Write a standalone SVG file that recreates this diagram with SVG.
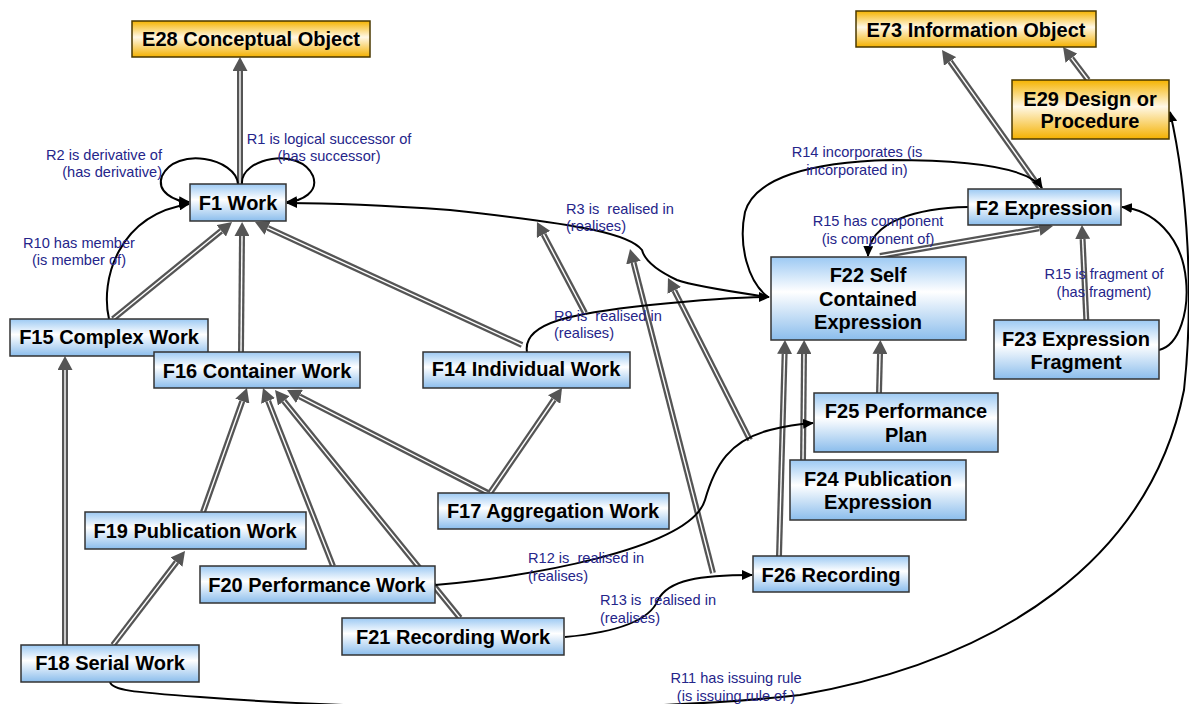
<svg xmlns="http://www.w3.org/2000/svg" width="1189" height="704" viewBox="0 0 1189 704">
<defs>
<linearGradient id="gb" x1="0" y1="0" x2="0" y2="1">
<stop offset="0" stop-color="#9cc9f3"/>
<stop offset="0.42" stop-color="#ffffff"/>
<stop offset="1" stop-color="#8bbdec"/>
</linearGradient>
<linearGradient id="gy" x1="0" y1="0" x2="0" y2="1">
<stop offset="0" stop-color="#f5b300"/>
<stop offset="0.45" stop-color="#fff8e6"/>
<stop offset="1" stop-color="#f4b100"/>
</linearGradient>
<marker id="ga" markerUnits="userSpaceOnUse" viewBox="0 0 14 15" refX="0" refY="7.5" markerWidth="14" markerHeight="15" orient="auto">
<path d="M0,0 L14,7.5 L0,15 z" fill="#555"/>
</marker>
<marker id="ba" markerUnits="userSpaceOnUse" viewBox="0 0 11 10" refX="10" refY="5" markerWidth="11" markerHeight="10" orient="auto">
<path d="M0,0 L11,5 L0,10 z" fill="#000"/>
</marker>
</defs>
<style>
.g{fill:none;stroke:#555;stroke-width:6;marker-end:url(#ga)}
.w{fill:none;stroke:#fff;stroke-width:1.4}
.b{fill:none;stroke:#000;stroke-width:2;marker-end:url(#ba)}
.nb{fill:url(#gb);stroke:#333;stroke-width:1.5}
.ny{fill:url(#gy);stroke:#4a3800;stroke-width:1.5}
.t{font-family:"Liberation Sans",Arial,sans-serif;font-weight:bold;font-size:20px;fill:#000;text-anchor:middle}
.l{font-family:"Liberation Sans",Arial,sans-serif;font-size:14.6px;fill:#25258a}
</style>
<rect width="1189" height="704" fill="#fff"/>
<g id="connectors">
<!-- gray is-a arrows -->
<path class="g" d="M240,184 L240,71"/><path class="w" d="M240,184 L240,71"/>
<path class="g" d="M113,319 L221.2,230.8"/><path class="w" d="M113,319 L221.2,230.8"/>
<path class="g" d="M241,352 L242,236"/><path class="w" d="M241,352 L242,236"/>
<path class="g" d="M522,345 L267.7,227.9"/><path class="w" d="M522,345 L267.7,227.9"/>
<path class="g" d="M65,645 L65,370"/><path class="w" d="M65,645 L65,370"/>
<path class="g" d="M113,645 L176.5,562.1"/><path class="w" d="M113,645 L176.5,562.1"/>
<path class="g" d="M203,512 L242.3,401.2"/><path class="w" d="M203,512 L242.3,401.2"/>
<path class="g" d="M333,566 L268.1,401"/><path class="w" d="M333,566 L268.1,401"/>
<path class="g" d="M460,618 L283.8,400.9"/><path class="w" d="M460,618 L283.8,400.9"/>
<path class="g" d="M488,493 L299.5,396.4"/><path class="w" d="M488,493 L299.5,396.4"/>
<path class="g" d="M490,493 L554.1,399.5"/><path class="w" d="M490,493 L554.1,399.5"/>
<path class="g" d="M585,313 L543.5,234.4"/><path class="w" d="M585,313 L543.5,234.4"/>
<path class="g" d="M713,573 L633.5,262.6"/><path class="w" d="M713,573 L633.5,262.6"/>
<path class="g" d="M750,440 L674.3,290.5"/><path class="w" d="M750,440 L674.3,290.5"/>
<path class="g" d="M779,556 L784.6,354"/><path class="w" d="M779,556 L784.6,354"/>
<path class="g" d="M803,460 L804,354"/><path class="w" d="M803,460 L804,354"/>
<path class="g" d="M879,393 L880,354"/><path class="w" d="M879,393 L880,354"/>
<path class="g" d="M1087,335 L1082.6,239"/><path class="w" d="M1087,335 L1082.6,239"/>
<path class="g" d="M880,256 L1039.2,228.4"/><path class="w" d="M880,256 L1039.2,228.4"/>
<path class="g" d="M1040,188 L950.1,61.4"/><path class="w" d="M1040,188 L950.1,61.4"/>
<path class="g" d="M1088,80 L1071.5,58.2"/><path class="w" d="M1088,80 L1071.5,58.2"/>
<!-- black relation arrows -->
<path class="b" d="M242,184 C240,158 300,146 313,176 C319,192 302,201 287,202"/>
<path class="b" d="M238,184 C236,158 176,146 162,176 C156,192 174,201 189,202"/>
<path class="b" d="M109,319 C100,280 118,215 189,204"/>
<path class="b" d="M768,297 C720,290 690,285 677,280 C660,272 645,262 642,250 C630,235 590,225 450,210 C380,205 330,203 287,203"/>
<path class="b" d="M527,352 C522,322 575,313 650,305 C700,300 740,297 769,297"/>
<path class="b" d="M768,297 C748,282 738,245 745,212 C755,178 810,162 890,160 C980,160 1030,170 1042,188"/>
<path class="b" d="M968,207 C920,208 869,220 868,256"/>
<path class="b" d="M1159,350 C1180,345 1189,310 1186,280 C1182,235 1152,210 1122,207"/>
<path class="b" d="M110,682 C112,690 130,692 200,697 C400,712 650,712 800,695 C1000,660 1150,560 1184,390 C1194,300 1188,190 1170,112"/>
<path class="b" d="M435,585 C520,578 690,550 705,500 C715,465 730,440 770,430 C790,425 800,424 813,423"/>
<path class="b" d="M565,637 C620,632 650,620 658,600 C668,580 700,575 752,575"/>
</g>
<g id="labels">
<text class="l" x="162" y="160" text-anchor="end">R2 is derivative of</text>
<text class="l" x="162" y="177" text-anchor="end">(has derivative)</text>
<text class="l" x="329" y="144" text-anchor="middle">R1 is logical successor of</text>
<text class="l" x="329" y="161" text-anchor="middle">(has successor)</text>
<text class="l" x="79" y="248" text-anchor="middle">R10 has member</text>
<text class="l" x="79" y="265" text-anchor="middle">(is member of)</text>
<text class="l" x="566" y="214" xml:space="preserve">R3 is  realised in</text>
<text class="l" x="566" y="231">(realises)</text>
<text class="l" x="554" y="321" xml:space="preserve">R9 is  realised in</text>
<text class="l" x="554" y="338">(realises)</text>
<text class="l" x="857" y="157" text-anchor="middle">R14 incorporates (is</text>
<text class="l" x="857" y="175" text-anchor="middle">incorporated in)</text>
<text class="l" x="878" y="226" text-anchor="middle">R15 has component</text>
<text class="l" x="878" y="244" text-anchor="middle">(is component of)</text>
<text class="l" x="1104" y="279" text-anchor="middle">R15 is fragment of</text>
<text class="l" x="1104" y="297" text-anchor="middle">(has fragment)</text>
<text class="l" x="528" y="563" xml:space="preserve">R12 is  realised in</text>
<text class="l" x="528" y="581">(realises)</text>
<text class="l" x="600" y="605" xml:space="preserve">R13 is  realised in</text>
<text class="l" x="600" y="623">(realises)</text>
<text class="l" x="736" y="683" text-anchor="middle">R11 has issuing rule</text>
<text class="l" x="736" y="701" text-anchor="middle" xml:space="preserve">(is issuing rule of )</text>
</g>
<g id="E28"><rect class="ny" x="132" y="21" width="238" height="36"/><text class="t" x="251" y="46">E28 Conceptual Object</text></g>
<g id="E73"><rect class="ny" x="856" y="11" width="240" height="36"/><text class="t" x="976" y="37">E73 Information Object</text></g>
<g id="E29"><rect class="ny" x="1012" y="80" width="157" height="59"/><text class="t" x="1090" y="106">E29 Design or</text><text class="t" x="1090" y="128">Procedure</text></g>
<g id="F1"><rect class="nb" x="190" y="184" width="96" height="37"/><text class="t" x="238" y="210">F1 Work</text></g>
<g id="F2"><rect class="nb" x="968" y="189" width="153" height="36"/><text class="t" x="1044" y="215">F2 Expression</text></g>
<g id="F22"><rect class="nb" x="771" y="257" width="195" height="83"/><text class="t" x="868" y="282">F22 Self</text><text class="t" x="868" y="306">Contained</text><text class="t" x="868" y="329">Expression</text></g>
<g id="F23"><rect class="nb" x="994" y="320" width="165" height="59"/><text class="t" x="1076" y="346">F23 Expression</text><text class="t" x="1076" y="369">Fragment</text></g>
<g id="F25"><rect class="nb" x="814" y="393" width="184" height="59"/><text class="t" x="906" y="418">F25 Performance</text><text class="t" x="906" y="442">Plan</text></g>
<g id="F24"><rect class="nb" x="790" y="460" width="176" height="60"/><text class="t" x="878" y="486">F24 Publication</text><text class="t" x="878" y="509">Expression</text></g>
<g id="F26"><rect class="nb" x="753" y="556" width="156" height="36"/><text class="t" x="831" y="582">F26 Recording</text></g>
<g id="F15"><rect class="nb" x="10" y="319" width="198" height="37"/><text class="t" x="109" y="344">F15 Complex Work</text></g>
<g id="F16"><rect class="nb" x="154" y="352" width="206" height="36"/><text class="t" x="257" y="378">F16 Container Work</text></g>
<g id="F14"><rect class="nb" x="423" y="352" width="207" height="36"/><text class="t" x="526" y="376">F14 Individual Work</text></g>
<g id="F17"><rect class="nb" x="438" y="493" width="231" height="36"/><text class="t" x="553" y="518">F17 Aggregation Work</text></g>
<g id="F19"><rect class="nb" x="85" y="512" width="221" height="37"/><text class="t" x="195" y="538">F19 Publication Work</text></g>
<g id="F20"><rect class="nb" x="200" y="566" width="235" height="37"/><text class="t" x="317" y="592">F20 Performance Work</text></g>
<g id="F21"><rect class="nb" x="342" y="618" width="222" height="37"/><text class="t" x="453" y="644">F21 Recording Work</text></g>
<g id="F18"><rect class="nb" x="21" y="645" width="178" height="37"/><text class="t" x="110" y="670">F18 Serial Work</text></g>
</svg>
